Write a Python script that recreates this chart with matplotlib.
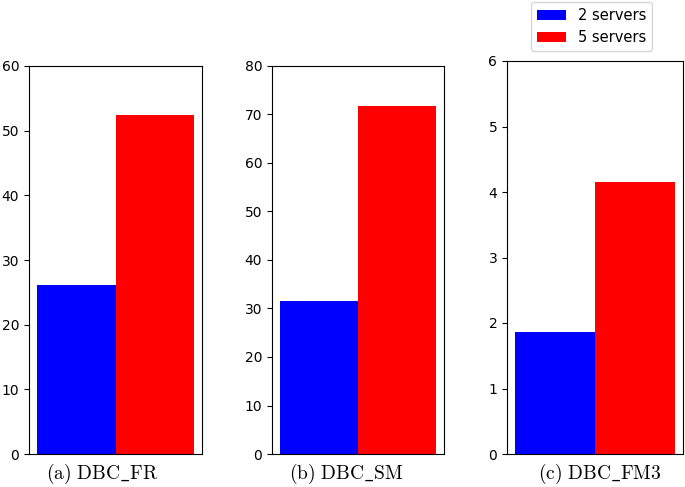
import matplotlib
matplotlib.use('Agg')
import matplotlib.pyplot as plt

# 数据
captions = [r'$\mathrm{(a)\ DBC\_FR}$', r'$\mathrm{(b)\ DBC\_SM}$', r'$\mathrm{(c)\ DBC\_FM3}$']
two_servers = [26.2, 31.6, 1.87]
five_servers = [52.4, 71.7, 4.15]
ylims = [60, 80, 6]
series_labels = ['2 servers', '5 servers']

plt.rcParams['mathtext.fontset'] = 'cm'

W, H = 685, 487
fig = plt.figure(figsize=(W / 100, H / 100), dpi=100)
# 各子图位置 (像素换算)
lefts = [29, 272, 507]
widths = [173, 172, 176]
heights = [388, 388, 393]
caption_x = [102, 346, 600]
bottom = 33 / H

for i in range(3):
    ax = fig.add_axes([lefts[i] / W, bottom, widths[i] / W, heights[i] / H])
    b1 = ax.bar(0, two_servers[i], width=1, color='blue', label=series_labels[0])
    b2 = ax.bar(1, five_servers[i], width=1, color='red', label=series_labels[1])
    ax.set_ylim(0, ylims[i])
    ax.set_xticks([])
    ax.tick_params(axis='y', labelsize=10)
    fig.text(caption_x[i] / W, (H - 474) / H, captions[i], fontsize=14, ha='center', va='center')

fig.legend(handles=[b1, b2], loc='upper center', bbox_to_anchor=(591.5 / W, 1.0),
           fontsize=10.5, borderaxespad=0.15)

fig.savefig('out.png', dpi=100)
